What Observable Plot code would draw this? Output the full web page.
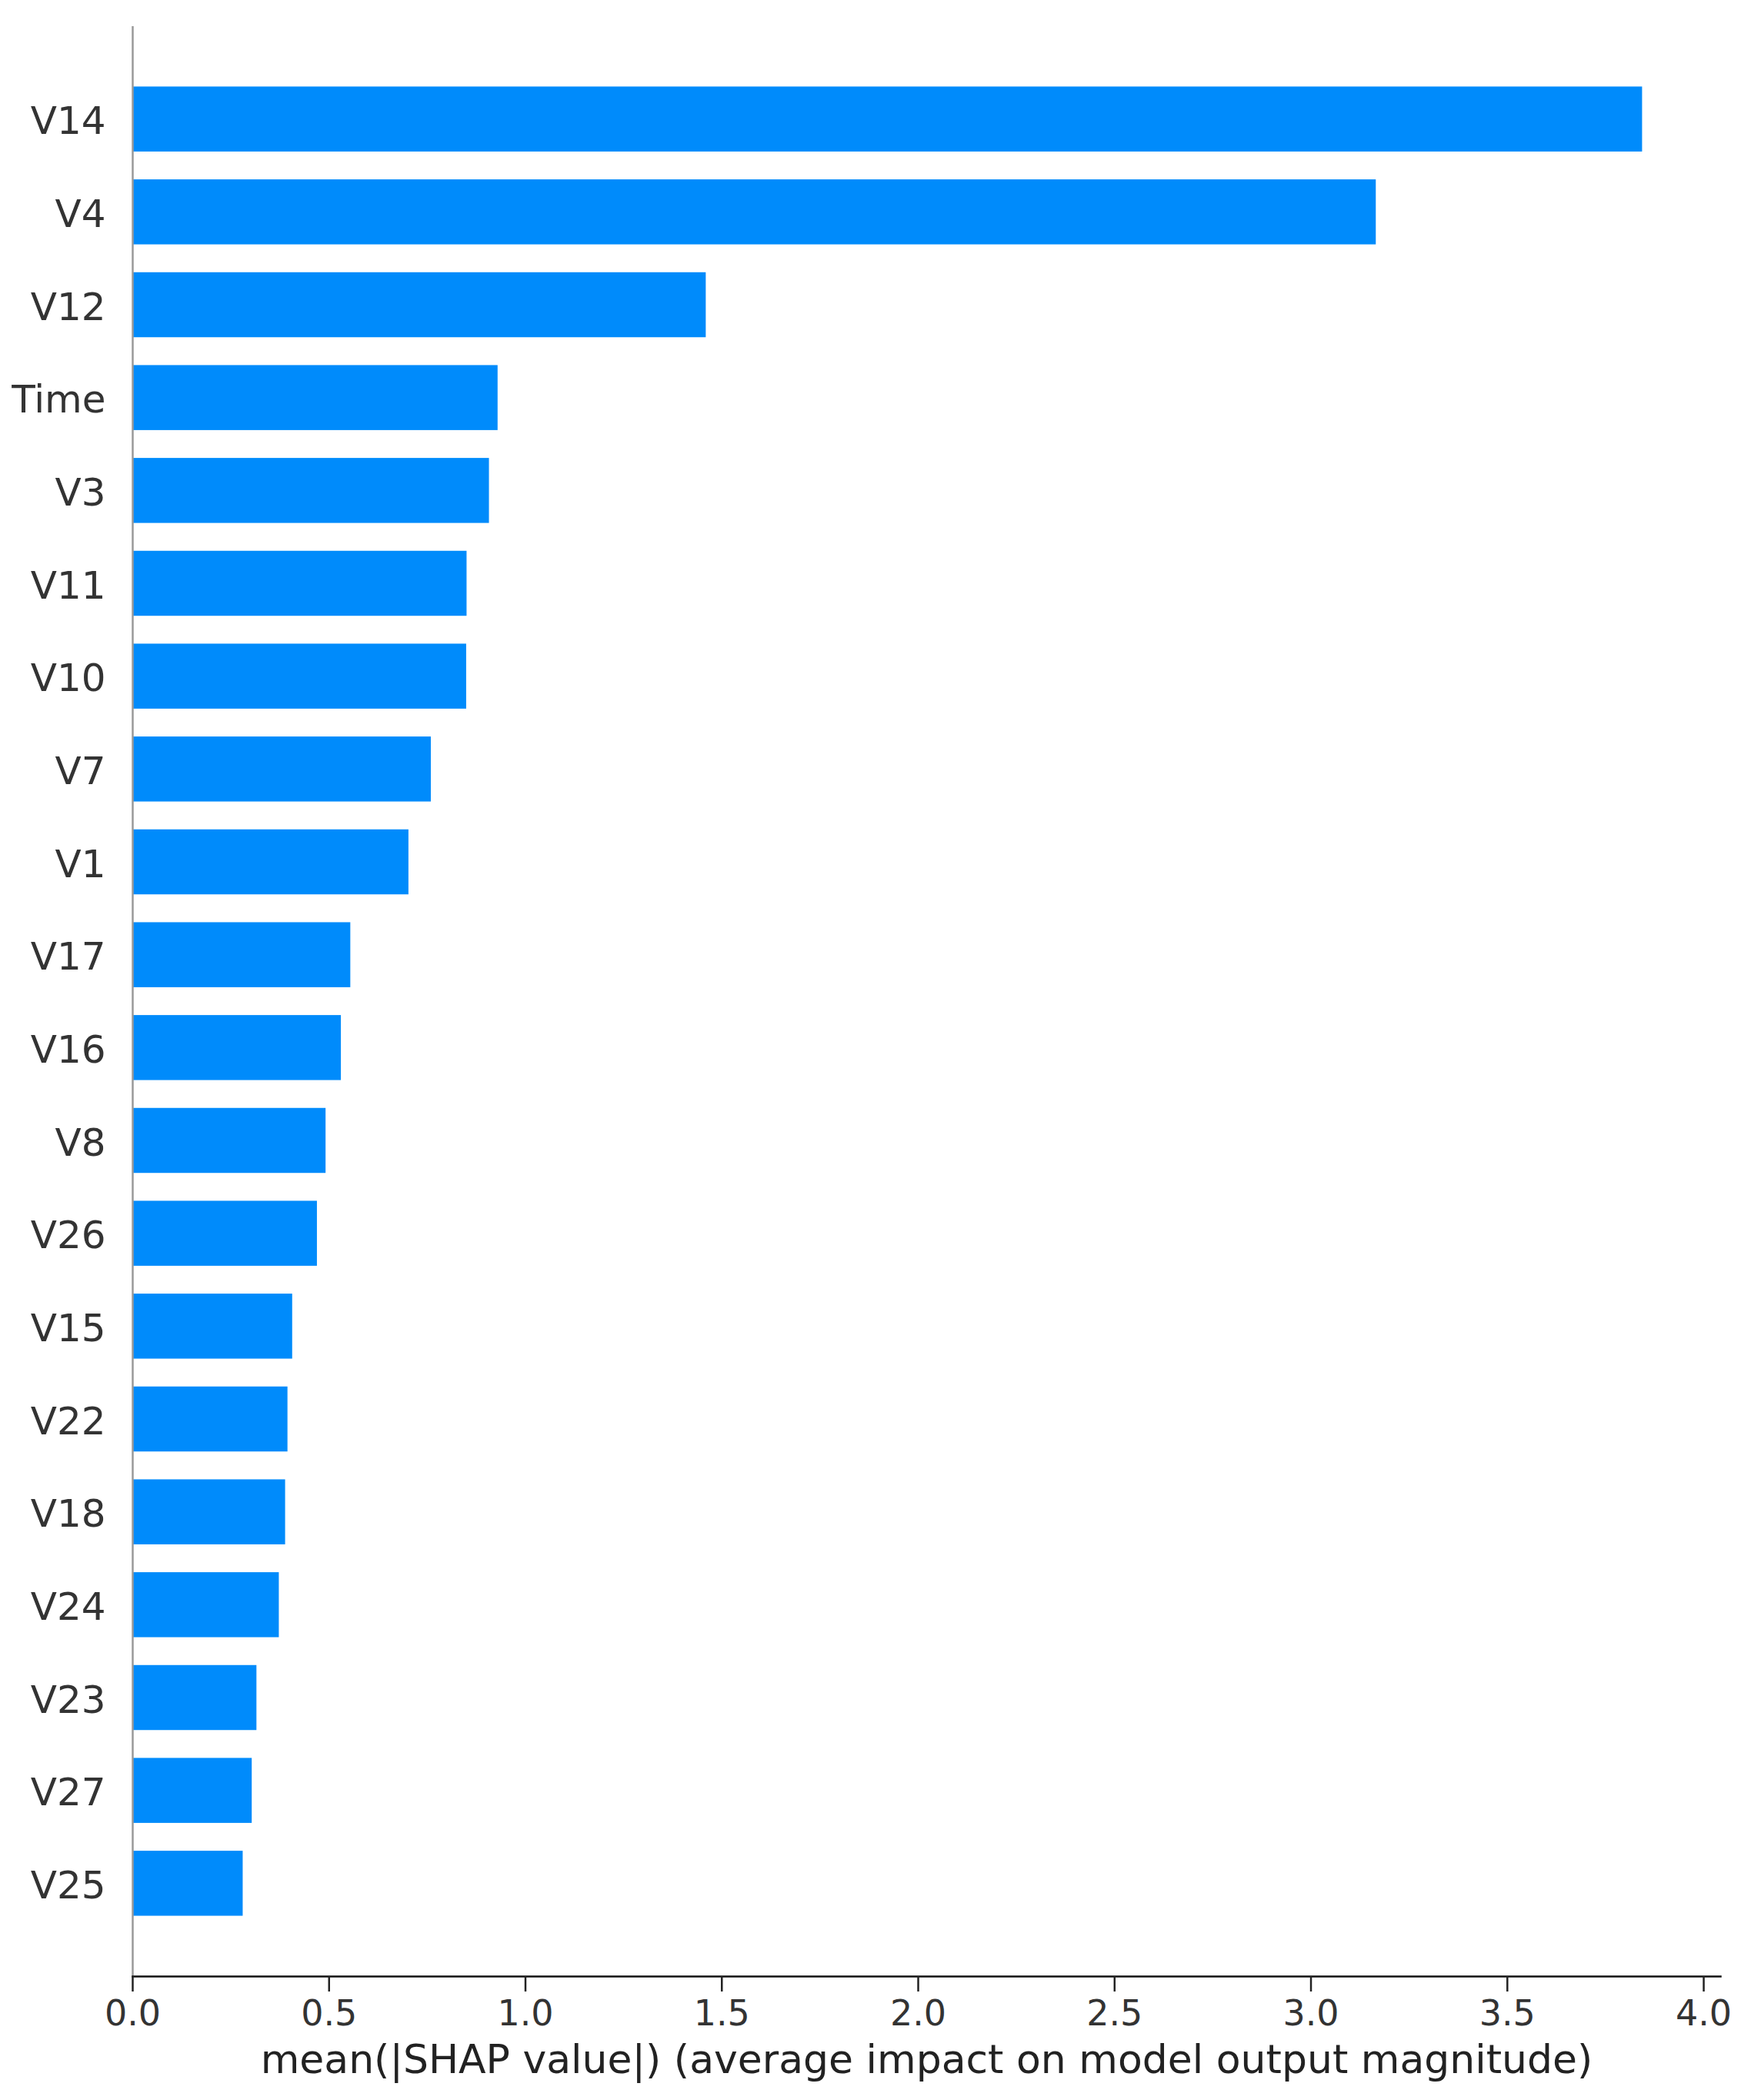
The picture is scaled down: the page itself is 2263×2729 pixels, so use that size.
<!DOCTYPE html>
<html>
<head>
<meta charset="utf-8">
<script src="https://cdn.jsdelivr.net/npm/d3@7"></script>
<script src="https://cdn.jsdelivr.net/npm/@observablehq/plot@0.6"></script>
<style>
  html, body { margin: 0; padding: 0; background: #ffffff; }
</style>
</head>
<body>
<div id="chart"></div>
<script>
// Feature names (top to bottom) and their mean |SHAP| values
const features = ["V14", "V4", "V12", "Time", "V3", "V11", "V10", "V7", "V1", "V17",
                  "V16", "V8", "V26", "V15", "V22", "V18", "V24", "V23", "V27", "V25"];
const meanAbsShap = [3.844, 3.166, 1.460, 0.930, 0.908, 0.851, 0.850, 0.760, 0.703, 0.555,
                     0.531, 0.492, 0.470, 0.407, 0.395, 0.389, 0.373, 0.316, 0.304, 0.281];
const xTicks = [0, 0.5, 1.0, 1.5, 2.0, 2.5, 3.0, 3.5, 4.0];
const xLabel = "mean(|SHAP value|) (average impact on model output magnitude)";

const data = features.map((f, i) => ({feature: f, value: meanAbsShap[i]}));

const chart = Plot.plot({
  width: 2263,
  height: 2729,
  marginLeft: 172,
  marginRight: 27,
  marginTop: 34,
  marginBottom: 161,
  style: {fontFamily: "'DejaVu Sans', sans-serif", background: "#ffffff", color: "#333333"},
  x: {domain: [0, 4.043]},
  y: {domain: features, paddingInner: 0.3, paddingOuter: 0.65, round: false},
  marks: [
    Plot.barX(data, {x: "value", y: "feature", fill: "#008bfb"}),
    Plot.ruleX([0], {stroke: "#999999", strokeWidth: 2.5}),
    Plot.frame({anchor: "bottom", stroke: "#111111", strokeWidth: 2.5}),
    Plot.axisY({tickSize: 0, tickPadding: 35, fontSize: 50, fill: "#333333", label: null, dy: 3}),
    Plot.axisX({ticks: xTicks, tickFormat: d3.format(".1f"), tickSize: 20, tickPadding: 11,
                fontSize: 46, fill: "#333333", stroke: "#222222", strokeWidth: 2.5,
                label: null}),
    Plot.text([xLabel], {frameAnchor: "bottom", dy: 109, fontSize: 52, fill: "#222222",
                         lineAnchor: "middle", text: d => d})
  ]
});
document.getElementById("chart").appendChild(chart);
</script>
</body>
</html>
